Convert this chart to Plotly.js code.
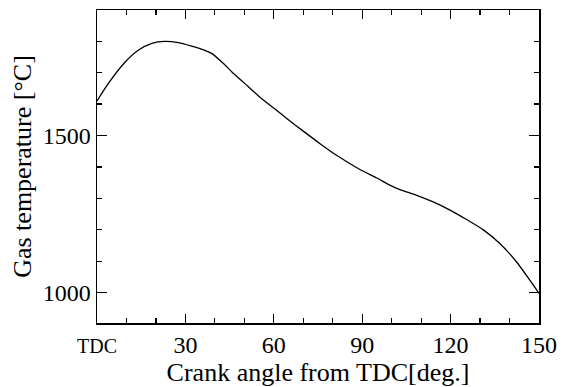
<!DOCTYPE html>
<html>
<head>
<meta charset="utf-8">
<script src="https://cdn.plot.ly/plotly-3.0.1.min.js"></script>
<style>html,body{margin:0;padding:0;background:#fff;}#chart{width:569px;height:387px;}</style>
</head>
<body>
<div id="chart"></div>
<script>
const crankAngle = [0, 3.8, 9.5, 14, 18.6, 23, 27.6, 32.1, 36.6, 38.9, 42.9, 45.7, 50.2, 55.9, 60.4, 64.4, 70, 75.7, 81.3, 89.2, 95, 99, 102.8, 108.5, 114.1, 119.8, 125.4, 131.1, 136.7, 142.4, 146.9, 150];
const gasTemp = [1610, 1665, 1733, 1771, 1793, 1799, 1795, 1784, 1771, 1761, 1729, 1703, 1665, 1617, 1584, 1554, 1514, 1474, 1437, 1392, 1365, 1344, 1328, 1310, 1289, 1263, 1233, 1200, 1157, 1098, 1040, 998];
const xTickVals = [0, 30, 60, 90, 120, 150];
const xTickText = ['<span style="font-size:20px">TDC</span>', '30', '60', '90', '120', '150'];

const serif = 'Liberation Serif, Times New Roman, serif';
const axisCommon = {
  showgrid: false, zeroline: false, showline: true, linecolor: '#000', linewidth: 1.5,
  mirror: 'ticks', ticks: 'inside', tickcolor: '#000', tickwidth: 1.2,
  tickfont: {family: serif, size: 24, color: '#000'}
};

Plotly.newPlot('chart', [{
  x: crankAngle, y: gasTemp, type: 'scatter', mode: 'lines',
  line: {color: '#000', width: 1.3, shape: 'spline', smoothing: 0.6}
}], {
  width: 569, height: 387,
  font: {family: serif, color: '#000'},
  margin: {l: 97, r: 30, t: 10, b: 64},
  paper_bgcolor: '#fff', plot_bgcolor: '#fff',
  showlegend: false,
  xaxis: Object.assign({}, axisCommon, {
    range: [0, 150], tickmode: 'array', tickvals: xTickVals, ticktext: xTickText, ticklen: 9,
    minor: {dtick: 10, tick0: 0, ticklen: 5, tickcolor: '#000', tickwidth: 1.2, ticks: 'inside'},
    title: {text: 'Crank angle from TDC[deg.]', standoff: 0, font: {family: serif, size: 26, color: '#000'}}
  }),
  yaxis: Object.assign({}, axisCommon, {
    range: [904, 1899], tick0: 1000, dtick: 500, ticklen: 10,
    minor: {dtick: 100, tick0: 1000, ticklen: 5, tickcolor: '#000', tickwidth: 1.2, ticks: 'inside'},
    title: {text: 'Gas temperature [°C]', standoff: 3, font: {family: serif, size: 26, color: '#000'}}
  })
}, {displayModeBar: false, staticPlot: true});
</script>
</body>
</html>
